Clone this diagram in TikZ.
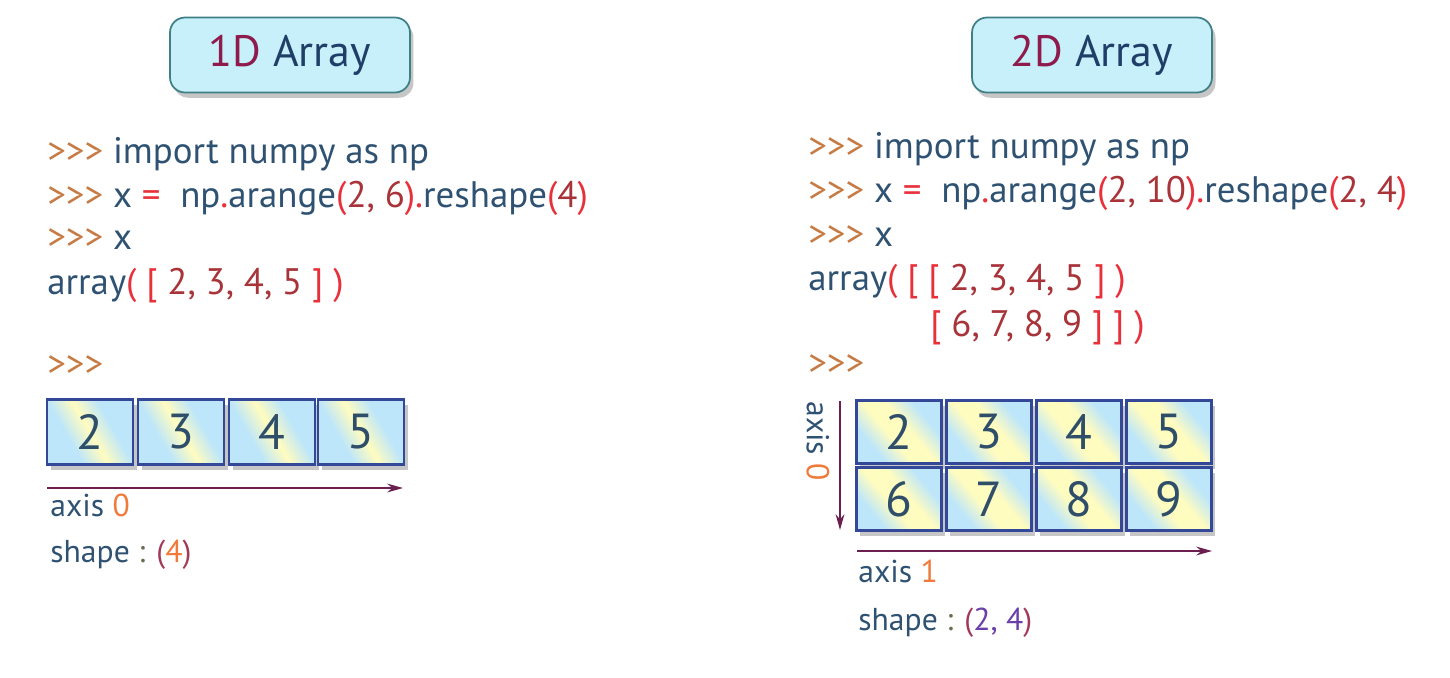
\documentclass[tikz,border=0pt]{standalone}
\usepackage{fontspec}
\setmainfont{PT Sans}
\usetikzlibrary{shadows,arrows.meta}

\definecolor{titlefill}{HTML}{C8F0FB}
\definecolor{titledraw}{HTML}{3F7F86}
\definecolor{titlered}{HTML}{8E1B4B}
\definecolor{titleblue}{HTML}{1F3F68}
\definecolor{codetext}{HTML}{2F5272}
\definecolor{promptcol}{HTML}{C67B45}
\definecolor{codered}{HTML}{E8303A}
\definecolor{codedark}{HTML}{A8343A}
\definecolor{cellblue}{HTML}{BDE6FA}
\definecolor{cellyellow}{HTML}{FFFCC0}
\definecolor{celldraw}{HTML}{34489A}
\definecolor{celltext}{HTML}{2E4E6A}
\definecolor{axiscol}{HTML}{6B1F4F}
\definecolor{axisnum}{HTML}{F07A3A}
\definecolor{shapepar}{HTML}{A03A58}
\definecolor{shapepurple}{HTML}{6A3FA8}
\definecolor{colon}{HTML}{6E6A50}

\pgfdeclarehorizontalshading{cellshadeA}{100bp}{color(0bp)=(cellblue); color(36bp)=(cellblue); color(50bp)=(cellyellow); color(64bp)=(cellblue); color(100bp)=(cellblue)}
\pgfdeclarehorizontalshading{cellshadeB}{100bp}{color(0bp)=(cellblue); color(30bp)=(cellblue); color(44bp)=(cellyellow); color(56bp)=(cellyellow); color(70bp)=(cellblue); color(100bp)=(cellblue)}

\newcommand{\pyprompt}{\textcolor{promptcol}{>\kern0pt>\kern0pt>}}
\newcommand{\pyred}[1]{\textcolor{codered}{#1}}
\newcommand{\pynum}[1]{\textcolor{codedark}{#1}}

\begin{document}
\begin{tikzpicture}[x=0.02cm,y=-0.02cm,
	titlebox/.style={draw=titledraw, line width=1pt, fill=titlefill, rounded corners=0.3cm,
		minimum width=4.8cm, minimum height=1.5cm, text=titleblue,
		font=\fontsize{25}{30}\selectfont,
		drop shadow={shadow xshift=2pt, shadow yshift=-3pt, opacity=0.45}},
	code/.style={anchor=base west, inner sep=0pt, text=codetext, font=\fontsize{21}{26}\selectfont},
	label/.style={code, font=\fontsize{18}{22}\selectfont},
	cellA/.style={draw=celldraw, line width=1.2pt, shading=cellshadeA, shading angle=30,
		minimum width=1.72cm, minimum height=1.3cm, inner sep=0pt, text=celltext,
		font=\fontsize{28}{30}\selectfont,
		drop shadow={shadow xshift=2pt, shadow yshift=-3pt, opacity=0.45}},
	cellB/.style={cellA, shading=cellshadeB, shading angle=40, minimum width=1.7cm, minimum height=1.26cm},
	axisarrow/.style={draw=axiscol, line width=1pt, -{Stealth[length=9pt, width=5pt, inset=3pt]}}
]

% frame %{{{2

	\useasboundingbox (0,0) rectangle (1450,677);

% titles %{{{2

	\node[titlebox] (title1) at (290,55) {\textcolor{titlered}{1D} Array};
	\node[titlebox] (title2) at (1092,55) {\textcolor{titlered}{2D} Array};

% 1D code %{{{2

	\node[code] (la) at (47,163) {\pyprompt{} import numpy as np};
	\node[code] (lb) at (47,207) {\pyprompt{} x \pyred{=}\ \ np\pyred{.}arange\pyred{(}\pynum{2, 6}\pyred{)}\pyred{.}reshape\pyred{(}\pynum{4}\pyred{)}};
	\node[code] (lc) at (47,249) {\pyprompt{} x};
	\node[code] (ld) at (47,294) {array\pyred{( [} \pynum{2, 3, 4, 5} \pyred{] )}};
	\node[code] (le) at (47,376) {\pyprompt};

% 1D cells %{{{2

	\node[cellA] (a2) at (90,432) {2};
	\node[cellA] (a3) at (181,432) {3};
	\node[cellA] (a4) at (272,432) {4};
	\node[cellA] (a5) at (361,432) {5};

% 1D axis %{{{2

	\coordinate (ax0s) at (47,488);
	\coordinate (ax0e) at (403,488);
	\draw[axisarrow] (ax0s) -- (ax0e);
	\node[label] (axis0) at (50,516) {axis \textcolor{axisnum}{0}};
	\node[label] (shape1) at (50,562) {shape \textcolor{colon}{:} \textcolor{shapepar}{(}\textcolor{axisnum}{4}\textcolor{shapepar}{)}};

% 2D code %{{{2

	\node[code] (ra) at (808,158) {\pyprompt{} import numpy as np};
	\node[code] (rb) at (808,202) {\pyprompt{} x \pyred{=}\ \ np\pyred{.}arange\pyred{(}\pynum{2, 10}\pyred{)}\pyred{.}reshape\pyred{(}\pynum{2, 4}\pyred{)}};
	\node[code] (rc) at (808,246) {\pyprompt{} x};
	\node[code] (rd) at (808,290) {array\pyred{( [ [} \pynum{2, 3, 4, 5} \pyred{] )}};
	\node[code] (re) at (930,336) {\pyred{[} \pynum{6, 7, 8, 9} \pyred{] ] )}};
	\node[code] (rf) at (808,375) {\pyprompt};

% 2D cells %{{{2

	\node[cellB] (b2) at (899,432) {2};
	\node[cellB] (b3) at (989,432) {3};
	\node[cellB] (b4) at (1079,432) {4};
	\node[cellB] (b5) at (1169,432) {5};
	\node[cellB] (b6) at (899,499) {6};
	\node[cellB] (b7) at (989,499) {7};
	\node[cellB] (b8) at (1079,499) {8};
	\node[cellB] (b9) at (1169,499) {9};

% 2D axes %{{{2

	\coordinate (ax1s) at (857,551);
	\coordinate (ax1e) at (1212,551);
	\coordinate (ax2s) at (840,401);
	\coordinate (ax2e) at (840,530);
	\draw[axisarrow] (ax1s) -- (ax1e);
	\draw[axisarrow] (ax2s) -- (ax2e);
	\node[label, anchor=west, rotate=-90] (axis2) at (818,401) {axis \textcolor{axisnum}{0}};
	\node[label] (axis1) at (858,582) {axis \textcolor{axisnum}{1}};
	\node[label] (shape2) at (858,630) {shape \textcolor{colon}{:} \textcolor{shapepar}{(}\textcolor{shapepurple}{2, 4}\textcolor{shapepar}{)}};

\end{tikzpicture}
\end{document}
